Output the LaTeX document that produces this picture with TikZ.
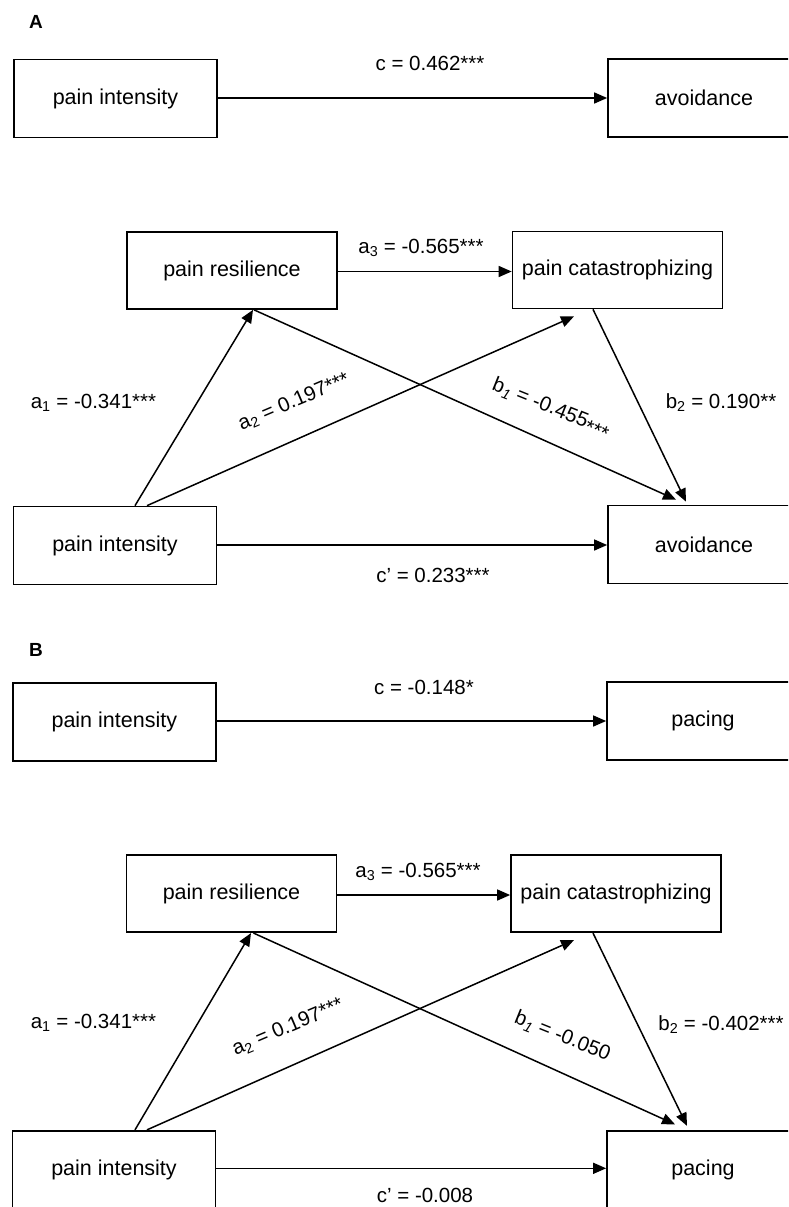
\documentclass[tikz,border=0pt]{standalone}
\usepackage{fontspec}
\setmainfont{Liberation Sans}
\usetikzlibrary{arrows.meta,calc}
\begin{document}
\begin{tikzpicture}[x=1pt,y=-1pt,
  box/.style={draw, line width=1.7pt, inner sep=0pt, font=\fontsize{21.5}{25}\selectfont},
  lbox/.style={box, minimum width=203pt, minimum height=78pt},
  mbox/.style={box, minimum width=210pt, minimum height=77pt},
  rbox/.style={box, minimum width=192pt, minimum height=78pt},
  conn/.style={line width=1.5pt, -{Triangle[length=13pt,width=11pt]}},
  lab/.style={font=\fontsize{20.5}{24}\selectfont, inner sep=1pt},
  panel/.style={font=\fontsize{19}{22}\selectfont\bfseries}]
\useasboundingbox (0,0) rectangle (788,1207);
\clip (0,0) rectangle (788,1207);

% ---------- Panel A ----------
\node[panel] (A) at (36,22) {A};
\node[lbox] (pi1) at (115.5,98.5) {pain intensity};
\node[rbox] (av1) at (704,98) {avoidance};
\draw[conn] (pi1.east |- 0,98) -- (av1.west |- 0,98);
\node[lab] (c1) at (430,63) {c = 0.462***};

\node[mbox] (res1) at (232,270.5) {pain resilience};
\node[mbox] (cat1) at (617.5,270) {pain catastrophizing};
\node[lbox] (pi2) at (115,545.5) {pain intensity};
\node[rbox] (av2) at (704,544.5) {avoidance};

\draw[conn] (res1.east |- 0,271.5) -- (cat1.west |- 0,271.5);
\draw[conn] ([xshift=20pt]pi2.north) -- ([xshift=21pt]res1.south);
\draw[conn] ([xshift=32pt]pi2.north) -- ([xshift=-43.5pt,yshift=-7pt]cat1.south);
\draw[conn] ([xshift=22pt]res1.south) -- ([xshift=-28pt,yshift=5pt]av2.north);
\draw[conn] ([xshift=-24.5pt]cat1.south) -- ([xshift=-18pt,yshift=3pt]av2.north);
\draw[conn] (pi2.east |- 0,545) -- (av2.west |- 0,545);

\node[lab] (la3) at (421,248) {a\textsubscript{3} = -0.565***};
\node[lab] (la1) at (93.5,402.7) {a\textsubscript{1} = -0.341***};
\node[lab, rotate=23] (la2) at (294,402) {a\textsubscript{2} = 0.197***};
\node[lab, rotate=-22] (lb1) at (551,409) {b\textsubscript{\itshape 1} = -0.455\raisebox{-0.5ex}{***}};
\node[lab] (lb2) at (721,402.7) {b\textsubscript{2} = 0.190**};
\node[lab] (lcp1) at (433,575) {c’ = 0.233***};

% ---------- Panel B ----------
\node[panel] (B) at (36,650) {B};
\node[lbox] (pi3) at (114.3,721.7) {pain intensity};
\node[rbox] (pc1) at (703,721.2) {pacing};
\draw[conn] (pi3.east |- 0,721) -- (pc1.west |- 0,721);
\node[lab] (c2) at (424,687) {c = -0.148*};

\node[mbox] (res2) at (231.5,893.7) {pain resilience};
\node[mbox] (cat2) at (616,893.7) {pain catastrophizing};
\node[lbox] (pi4) at (114,1169.7) {pain intensity};
\node[rbox] (pc2) at (703,1169.7) {pacing};

\draw[conn] (res2.east |- 0,895) -- (cat2.west |- 0,895);
\draw[conn] ([xshift=21pt]pi4.north) -- ([xshift=19.5pt]res2.south);
\draw[conn] ([xshift=33pt]pi4.north) -- ([xshift=-42pt,yshift=-7pt]cat2.south);
\draw[conn] ([xshift=22pt]res2.south) -- ([xshift=-28pt,yshift=5.5pt]pc2.north);
\draw[conn] ([xshift=-23pt]cat2.south) -- ([xshift=-16pt,yshift=4pt]pc2.north);
\draw[conn] (pi4.east |- 0,1168.3) -- (pc2.west |- 0,1168.3);

\node[lab] (lb3) at (418,871.7) {a\textsubscript{3} = -0.565***};
\node[lab] (lb4) at (93.5,1023) {a\textsubscript{1} = -0.341***};
\node[lab, rotate=23] (lb5) at (288,1027.5) {a\textsubscript{2} = 0.197***};
\node[lab, rotate=-22] (lb6) at (562.5,1036.5) {b\textsubscript{\itshape 1} = -0.050};
\node[lab] (lb7) at (721,1025) {b\textsubscript{2} = -0.402***};
\node[lab] (lcp2) at (425,1195.5) {c’ = -0.008};
\end{tikzpicture}
\end{document}
